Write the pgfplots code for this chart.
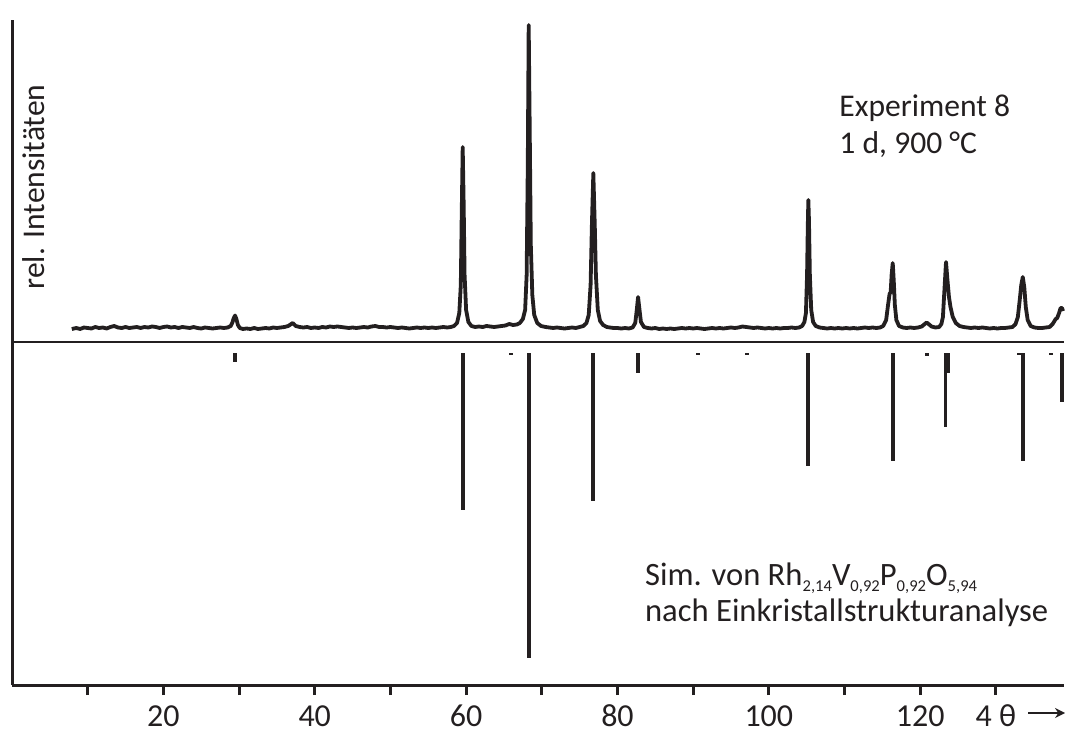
\documentclass[border=0pt]{standalone}
\usepackage{pgfplots}
\pgfplotsset{compat=1.18}
\usepackage{fontspec}
\setmainfont{Carlito}
\usetikzlibrary{arrows.meta}
\definecolor{ink}{RGB}{35,31,32}
\newcommand\sub[1]{\raisebox{-3pt}{\fontsize{8.3}{9}\selectfont #1}}
\begin{document}
\begin{tikzpicture}
\begin{axis}[
 scale only axis, width=526pt, height=332.5pt,
 xmin=0, xmax=139, ymin=0, ymax=665,
 axis x line*=bottom, axis y line*=left,
 axis line style={line width=1.5pt, ink},
 ytick=\empty,
 xtick={10,20,...,130},
 xticklabels={,20,,40,,60,,80,,100,,120,4 θ},
 tick align=outside, major tick length=5pt,
 every tick/.style={line width=1.5pt, ink},
 xticklabel style={font=\fontsize{16}{19}\selectfont, text=ink, anchor=base, inner sep=0pt, yshift=-15.5pt},
 clip=false,
]
% experimental pattern
\addplot[ink, line width=1.9pt, line join=round] coordinates {
(7.9,356)(8.5,357)(9.0,356)(9.5,357.5)(10,357)(10.5,356.5)(11,358)(11.5,357)(12,357.5)(12.5,356.5)(13,358)(13.5,359)(14,357.5)(14.5,357)(15,358)(15.5,357)(16,357.5)(16.5,358)(17,357)(17.5,358)(18,357.5)(18.5,358.5)(19,358)(19.5,357)(20,358)(20.5,358.5)(21,357.5)(21.5,358)(22,357)(22.5,358)(23,357.5)(23.5,357)(24,358)(24.5,357)(25,356.5)(25.5,357.5)(26,357)(26.5,356.5)(27,357)(27.5,357.5)(28,357)(28.5,357.5)(28.9,359)
(29.1,362)(29.3,367)(29.47,369.5)(29.65,366)(29.85,360)(30.1,357)(30.5,356)
(31,356.5)(31.5,356)(32,357)(32.5,356)(33,356.5)(33.5,357)(34,356.5)(34.5,357.5)(35,357)(35.5,357.5)(36,358)(36.5,359)(37.1,362)(37.5,359)(38,358)(38.5,357.5)(39,358)(39.5,357)(40,357.5)(40.5,357)(41,358)(41.5,357.5)(42,358.5)(42.5,358)(43,358.5)(43.5,358)(44,357.5)(44.5,357)(45,357.5)(45.5,357)(46,357.5)(46.5,358)(47,357.5)(47.5,358.5)(48,359)(48.5,358)(49,358)(49.5,357.5)(50,358)(50.5,357.5)(51,357)(51.5,357.5)(52,357)(52.5,356.5)(53,357)(53.5,357.5)(54,357)(54.5,357.5)(55,357)(55.5,357.5)(56,357)(56.5,357.5)(57,358)(57.5,357.5)(58,358)(58.4,359)
(58.8,362)(59.1,372)(59.3,400)(59.42,470)(59.55,538)(59.68,480)(59.8,410)(60.0,375)(60.3,363)(60.7,359)
(61.2,358)(61.7,358.5)(62.2,358)(62.7,359)(63.2,358.5)(63.7,358)(64.2,358.5)(64.7,359)(65.2,359.5)(65.7,361)(66.2,360)(66.7,360.5)(67.1,362)(67.5,366)(67.8,375)(68.0,410)(68.15,520)(68.27,660)(68.4,560)(68.55,440)(68.75,390)(69.0,370)(69.4,362)(69.9,359)
(70.5,358)(71,357.5)(71.5,357)(72,357.5)(72.5,357)(73,356.5)(73.5,357)(74,357.5)(74.5,357)(75,358)(75.5,359)(75.9,362)
(76.2,370)(76.45,400)(76.62,460)(76.81,512)(77.0,460)(77.15,410)(77.4,375)(77.7,364)(78.1,360)(78.6,358)
(79,357.5)(79.5,357)(80,357)(80.5,356.5)(81,357)(81.5,356.5)(82,357.5)(82.35,362)
(82.55,375)(82.72,388)(82.9,376)(83.1,363)(83.5,358)
(84,357)(84.5,356.5)(85,357)(85.5,356)(86,356.5)(86.5,356)(87,356.5)(87.5,356)(88,356.5)(88.5,357)(89,356.5)(89.5,357)(90,356.5)(90.5,357)(91,356.5)(91.5,356)(92,356.5)(92.5,357)(93,356.5)(93.5,357)(94,356.5)(94.5,357)(95,357.5)(95.5,357)(96,357.5)(96.5,358.5)(97,358)(97.5,357.5)(98,357)(98.5,357.5)(99,357)(99.5,356.5)(100,357)(100.5,356.5)(101,357)(101.5,356.5)(102,357)(102.5,357)(103,357.5)(103.5,357)(104,357.5)(104.4,359)(104.7,363)
(104.9,372)(105.05,410)(105.15,460)(105.22,485)(105.3,465)(105.42,410)(105.6,375)(105.85,363)(106.2,359)(106.7,357.5)
(107.2,357)(107.7,356.5)(108.2,357)(108.7,356.5)(109.2,357)(109.7,356.5)(110.2,357)(110.7,356.5)(111.2,357)(111.7,356.5)(112.2,357)(112.7,357.5)(113.2,357)(113.7,357.5)(114.2,357)(114.7,357.5)(115.1,359)(115.5,365)
(115.75,380)(115.95,391)(116.1,393)(116.22,410)(116.37,422)(116.5,405)(116.65,380)(116.85,365)(117.2,359)(117.7,357.5)
(118.2,357)(118.7,357.5)(119.2,357)(119.7,357.5)(120.2,358.5)(120.6,361)(120.86,362.5)(121.1,361)(121.5,358.5)(122,357.5)(122.5,358)(122.8,361)
(123.0,368)(123.2,395)(123.41,423)(123.6,405)(123.8,388)(124.0,378)(124.3,368)(124.7,362)(125.2,359)(125.7,358)
(126.2,357.5)(126.7,357)(127.2,357.5)(127.7,357)(128.2,357.5)(128.7,357)(129.2,356.5)(129.7,357)(130.2,356.5)(130.7,357)(131.2,357)(131.7,357.5)(132.2,358)(132.6,361)(132.9,368)
(133.15,385)(133.35,400)(133.55,408)(133.75,398)(133.95,378)(134.2,365)(134.6,359)(135.1,357.5)
(135.6,357)(136.1,357)(136.6,357.5)(137.1,358)(137.5,361)(137.9,366)(138.1,367)(138.35,372)(138.55,377)(138.74,377)(138.87,374)
};
% simulated pattern (sticks)
\addplot[ink, line width=1.9pt, unbounded coords=jump] coordinates {
(29.47,332)(29.47,323)(29.47,nan)
(59.55,332)(59.55,175)(59.55,nan)
(65.94,332)(65.94,330)(65.94,nan)
(68.27,332)(68.27,27)(68.27,nan)
(76.81,332)(76.81,184)(76.81,nan)
(82.72,332)(82.72,312)(82.72,nan)
(90.6,332)(90.6,330)(90.6,nan)
(97.1,332)(97.1,330)(97.1,nan)
(105.22,332)(105.22,219)(105.22,nan)
(116.37,332)(116.37,224)(116.37,nan)
(120.86,332)(120.86,329)(120.86,nan)
(123.35,332)(123.35,258)(123.35,nan)
(123.62,332)(123.62,312)(123.62,nan)
(133.06,332)(133.06,330)(133.06,nan)
(133.55,332)(133.55,224)(133.55,nan)
(137.3,332)(137.3,330.5)(137.3,nan)
(138.74,332)(138.74,283)
};
\draw[ink, line width=1pt] (axis cs:0,343) -- (axis cs:139,343);
\draw[ink, line width=1pt, -{Stealth[length=5pt,width=5pt]}] (axis cs:134.3,-28) -- (axis cs:139.14,-28);
\node[rotate=90, anchor=base, inner sep=0pt, text=ink, font=\fontsize{15.8}{19}\selectfont] at (axis cs:4.36,498) {rel. Intensitäten};
\node[anchor=base west, inner sep=0pt, text=ink, font=\fontsize{15.8}{19}\selectfont] at (axis cs:109.28,568.3) {Experiment 8};
\node[anchor=base west, inner sep=0pt, text=ink, font=\fontsize{15.8}{19}\selectfont] at (axis cs:109.28,531) {1 d, 900 °C};
\node[anchor=base west, inner sep=0pt, text=ink, font=\fontsize{16.3}{19}\selectfont] at (axis cs:83.6,100) {Sim. von Rh\sub{2,14}V\sub{0,92}P\sub{0,92}O\sub{5,94}};
\node[anchor=base west, inner sep=0pt, text=ink, font=\fontsize{16.3}{19}\selectfont] at (axis cs:83.6,63.3) {nach Einkristallstrukturanalyse};
\end{axis}
\pgfresetboundingbox
\path (-6pt,-22pt) rectangle (526.5pt,342.5pt);
\end{tikzpicture}
\end{document}
